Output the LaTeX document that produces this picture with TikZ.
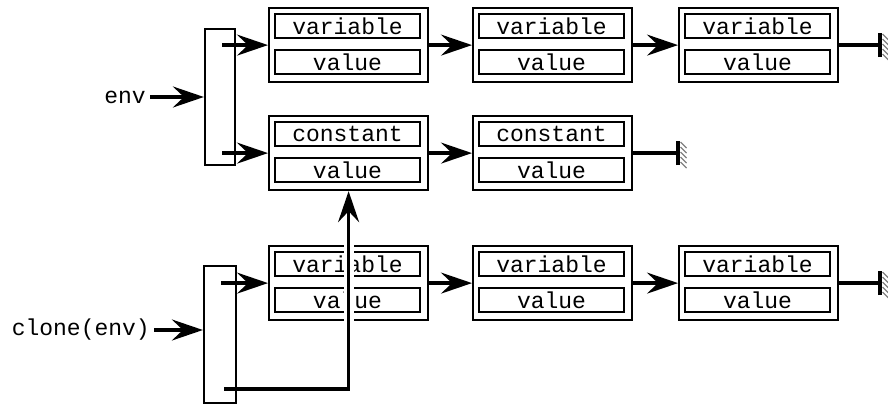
\documentclass[tikz,border=0pt]{standalone}
\usepackage{fontspec}
\setmonofont{Liberation Mono}
\usetikzlibrary{arrows.meta}

% one list cell: outer frame holding a key field and a value field
\newcommand\listcell[4]{%
  \node[cellbox] (#1) at (#2,#3) {};
  \node[fieldbox] (#1k) at (#2+79.5,#3+19) {#4};
  \node[fieldbox] (#1v) at (#2+79.5,#3+55) {value};
}
% terminator of a list: bar with hatching behind it
\newcommand\listend[1]{%
  \draw[line width=3.2pt] ([yshift=-12pt]#1) -- ([yshift=12pt]#1);
  \foreach \k in {0,...,4}
    \draw[gray, line width=1.2pt] ([shift={(2.5pt,11pt-5*\k pt)}]#1) -- ++(6,6);
}

\begin{document}
\begin{tikzpicture}[x=1pt,y=-1pt,
  every node/.style={font=\fontsize{23}{23}\selectfont\ttfamily},
  cellbox/.style={draw, line width=2.2pt, minimum width=159pt, minimum height=74pt,
                  inner sep=0pt, anchor=north west},
  fieldbox/.style={draw, line width=2.2pt, minimum width=145pt, minimum height=24pt,
                   inner sep=0pt},
  tabbox/.style={draw, line width=2.2pt, inner sep=0pt},
  link/.style={line width=3.4pt, -{Stealth[length=31pt,width=21pt,inset=11pt]}},
  stub/.style={line width=3.4pt}
]
\useasboundingbox (0,0) rectangle (888,404);

% environment table and its label
\node[tabbox, minimum width=30pt, minimum height=136pt] (envtab) at (220,97) {};
\node[anchor=east, inner sep=0pt] (envlbl) at (146,97) {env};

% cloned table and its label
\node[tabbox, minimum width=32pt, minimum height=137pt] (clonetab) at (220,334.5) {};
\node[anchor=east, inner sep=0pt] (clonelbl) at (150,330) {clone(env)};

% variable chain of env
\listcell{a1}{268}{7}{variable}
\listcell{a2}{472}{7}{variable}
\listcell{a3}{678}{7}{variable}
% shared constant chain
\listcell{b1}{268}{115}{constant}
\listcell{b2}{472}{115}{constant}
% variable chain of the clone
\listcell{c1}{268}{245}{variable}
\listcell{c2}{472}{245}{variable}
\listcell{c3}{678}{245}{variable}

\coordinate (enda) at (a3.east -| 880,0);
\coordinate (endb) at (b2.east -| 678,0);
\coordinate (endc) at (c3.east -| 880,0);

% entry pointers
\draw[link] (envlbl.east) ++(4,0) -- (envtab.west |- envlbl.east);
\draw[link] ([xshift=2pt]envtab.center |- a1.west) -- (a1.west);
\draw[link] ([xshift=2pt]envtab.center |- b1.west) -- (b1.west);
\draw[link] (clonelbl.east) ++(4,0) -- (clonetab.west |- clonelbl.east);
\draw[link] ([xshift=1pt]clonetab.center |- c1.west) -- (c1.west);

% chain links
\draw[link] (a1.east) -- (a2.west);
\draw[link] (a2.east) -- (a3.west);
\draw[link] (b1.east) -- (b2.west);
\draw[link] (c1.east) -- (c2.west);
\draw[link] (c2.east) -- (c3.west);

% chain terminators
\draw[stub] (a3.east) -- (enda);
\draw[stub] (b2.east) -- (endb);
\draw[stub] (c3.east) -- (endc);
\listend{enda}
\listend{endb}
\listend{endc}

% clone's pointer into the shared constant chain, crossing over c1
\coordinate (bend) at (b1.south |- 0,389);
\draw[white, line width=10pt] (b1.south |- 0,238) -- (b1.south |- 0,325);
\draw[link] ([xshift=4pt]clonetab.center |- bend) -- (bend) -- (b1.south);
\end{tikzpicture}
\end{document}
